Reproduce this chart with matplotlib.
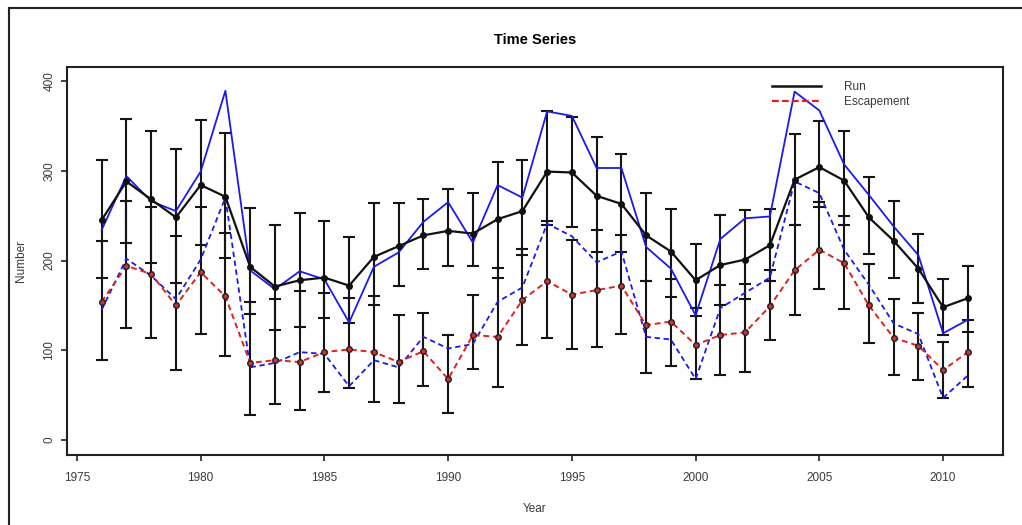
import matplotlib
matplotlib.use("Agg")
import matplotlib.pyplot as plt
from matplotlib.lines import Line2D

plt.rcParams['font.family'] = ['Liberation Sans', 'DejaVu Sans']

# values
years = list(range(1976, 2012))

run = [245, 288, 268, 248, 284, 271, 193, 171, 178, 181, 172, 204,
       216, 228, 233, 230, 246, 255, 299, 298, 272, 263, 228, 210,
       178, 195, 201, 217, 290, 304, 289, 248, 222, 191, 148, 158]
run_hi = [312, 358, 344, 324, 356, 342, 258, 239, 253, 244, 226, 264,
          264, 268, 280, 275, 310, 312, 366, 360, 338, 319, 275, 257,
          218, 251, 256, 257, 341, 355, 344, 293, 266, 229, 179, 194]
run_lo = [180, 220, 197, 175, 217, 203, 140, 123, 126, 136, 130, 151,
          172, 191, 194, 194, 180, 206, 240, 237, 209, 210, 177, 159,
          138, 150, 157, 177, 239, 260, 240, 207, 181, 153, 117, 120]

esc = [154, 194, 185, 150, 187, 160, 86, 89, 87, 98, 101, 98,
       87, 99, 68, 117, 115, 156, 177, 162, 167, 172, 128, 132,
       106, 117, 120, 149, 189, 212, 197, 150, 114, 105, 78, 98]
esc_hi = [222, 266, 260, 227, 260, 231, 154, 157, 166, 164, 158, 161,
          139, 141, 117, 162, 192, 213, 244, 223, 234, 228, 177, 179,
          147, 173, 174, 189, 240, 265, 250, 196, 157, 142, 109, 134]
esc_lo = [89, 125, 114, 78, 118, 94, 28, 40, 33, 54, 58, 43,
          41, 60, 30, 79, 59, 106, 114, 102, 104, 118, 75, 82,
          68, 73, 76, 111, 139, 168, 146, 108, 72, 67, 47, 59]

obs_run = [234, 294, 266, 255, 299, 389, 189, 168, 188, 179, 131, 193,
           209, 243, 265, 220, 284, 270, 366, 361, 303, 303, 215, 191,
           139, 224, 247, 249, 388, 367, 307, 273, 238, 206, 119, 134]
obs_esc = [145, 202, 183, 157, 201, 270, 81, 86, 98, 96, 60, 89,
           81, 115, 102, 107, 154, 170, 241, 227, 198, 210, 115, 112,
           68, 147, 164, 181, 288, 275, 212, 173, 130, 118, 47, 72]

x_ticks = [1975, 1980, 1985, 1990, 1995, 2000, 2005, 2010]
y_ticks = [0, 100, 200, 300, 400]

W, H = 1022, 525
fig = plt.figure(figsize=(W / 100, H / 100), dpi=100)
ax = fig.add_axes([67 / W, 1 - 454.5 / H, (1002.5 - 67) / W, (454.5 - 66.5) / H])

# error bars for run and escapement
run_err = [[r - lo for r, lo in zip(run, run_lo)], [hi - r for r, hi in zip(run, run_hi)]]
esc_err = [[e - lo for e, lo in zip(esc, esc_lo)], [hi - e for e, hi in zip(esc, esc_hi)]]
for vals, err in [(run, run_err), (esc, esc_err)]:
    ax.errorbar(years, vals, yerr=err, fmt='none', ecolor='#151515',
                elinewidth=1.5, capsize=4.6, capthick=1.5, zorder=2)

ax.plot(years, obs_run, color='#1a1aee', lw=1.3, zorder=3)
ax.plot(years, obs_esc, color='#1a1aee', lw=1.3, ls=(0, (3, 2)), zorder=3)
ax.plot(years, run, color='#111111', lw=1.6, marker='o', ms=4.0,
        mfc='#111111', mec='#111111', zorder=4)
ax.plot(years, esc, color='#e02020', lw=1.4, ls=(0, (3, 2)), marker='o', ms=4.0,
        mfc='#d03030', mec='#222222', mew=1.0, zorder=4)

ax.set_xlim(1974.6, 2012.4)
ax.set_ylim(-16, 416)
ax.set_xticks(x_ticks)
ax.set_yticks(y_ticks)
ax.set_yticklabels([str(v) for v in y_ticks], rotation=90, va='center')
ax.tick_params(axis='both', direction='out', length=4.5, width=1.2,
               labelsize=8.5, labelcolor='#3a3a3a', color='#222222')
ax.tick_params(axis='x', pad=8)
ax.tick_params(axis='y', pad=4)
for sp in ax.spines.values():
    sp.set_linewidth(1.5)
    sp.set_color('#222222')

ax.set_title('Time Series', fontsize=10.5, fontweight='bold', pad=16)
ax.set_xlabel('Year', fontsize=8.5, color='#3a3a3a', labelpad=14)
ax.set_ylabel('Number', fontsize=8.5, color='#3a3a3a', labelpad=12)

handles = [Line2D([], [], color='#111111', lw=1.8),
           Line2D([], [], color='#e02020', lw=1.6, ls=(0, (3, 1.5)))]
ax.legend(handles, ['Run', 'Escapement'], loc='upper left',
          bbox_to_anchor=(766 / W, 1 - 75 / H), bbox_transform=fig.transFigure,
          frameon=False, borderpad=0, handlelength=4.2, handletextpad=1.9,
          labelspacing=0.3, fontsize=8.5, labelcolor='#3a3a3a')

# outer frame of the device, only the left and top edges are in view
fig.add_artist(Line2D([9 / W, 9 / W], [0, 1 - 8 / H], color='#222222', lw=1.5))
fig.add_artist(Line2D([9 / W, 1], [1 - 8 / H, 1 - 8 / H], color='#222222', lw=1.5))

fig.savefig('out.png', dpi=100)
